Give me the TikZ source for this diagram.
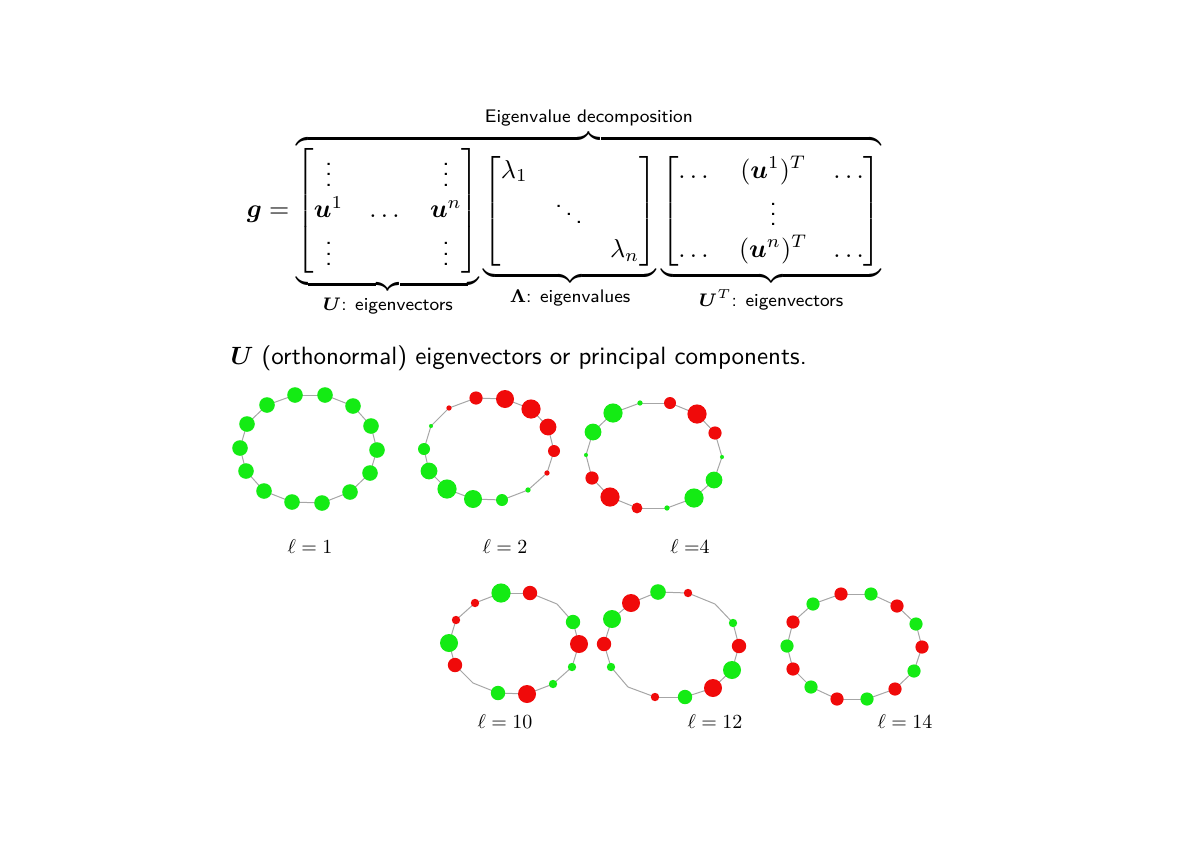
\documentclass[tikz,border=0pt]{standalone}
\usepackage{amsmath,amssymb,bm}
\begin{document}
\begin{tikzpicture}[x=0.5pt,y=-0.5pt,
  edge/.style={draw=gray!70,line width=0.5pt}]
\definecolor{dg}{RGB}{20,235,20}
\definecolor{dr}{RGB}{240,10,10}
\useasboundingbox (0,0) rectangle (1200,862);
\node[inner sep=0,scale=1.3] (eq) at (564,212) {\sffamily $\bm g = \overbrace{\underbrace{\begin{bmatrix}\vdots & & \vdots\\ \bm u^1 & \dots & \bm u^n\\ \vdots && \vdots\end{bmatrix}}_{\text{\sffamily $\bm U$: eigenvectors}} \underbrace{\begin{bmatrix}\lambda_1&&\\&\ddots&\\&&\lambda_n\end{bmatrix}}_{\text{\sffamily $\bm\Lambda$: eigenvalues}} \underbrace{\begin{bmatrix}\dots&(\bm u^1)^T&\dots\\&\vdots&\\ \dots&(\bm u^n)^T&\dots\end{bmatrix}}_{\text{\sffamily $\bm U^T$: eigenvectors}}}^{\text{\sffamily Eigenvalue decomposition}}$};
\node[anchor=west,inner sep=0,scale=1.25] (txt) at (230,358) {\sffamily $\bm U$ (orthonormal) eigenvectors or principal components.};
\newcommand{\drawring}[1]{%
  \foreach \x/\y/\r/\c [count=\i, remember=\x as \px (initially 0), remember=\y as \py (initially 0)] in {#1} {%
    \ifnum\i=1 \xdef\fx{\x}\xdef\fy{\y}\else \draw[edge] (\px,\py)--(\x,\y);\fi
    \xdef\lx{\x}\xdef\ly{\y}}%
  \draw[edge] (\lx,\ly)--(\fx,\fy);
  \foreach \x/\y/\r/\c in {#1} {\ifdim \r pt>0pt \fill[\c] (\x,\y) circle[radius=\r*1.2];\fi}}
\def\ringA{295/395/6.5/dg,325/395/6.5/dg,353/406/6.5/dg,371/426/6.5/dg,377/450/6.5/dg,370/473/6.5/dg,350/492/6.5/dg,322/503/6.5/dg,292/502/6.5/dg,264/491/6.5/dg,246/471/6.5/dg,240/448/6.5/dg,247/424/6.5/dg,267/405/6.5/dg}
\def\ringB{476/398/5.5/dr,449/408/2.2/dr,431/426/1.7/dg,424/449/5/dg,429/471/7/dg,447/489/8/dg,473/499/7.5/dg,502/500/5/dg,528/490/2.2/dg,547/473/2.2/dr,554/451/5/dr,548/427/7/dr,531/409/8/dr,505/399/7.5/dr}
\def\ringC{613/413/8/dg,640/403/2.2/dg,670/403/5/dr,697/414/8/dr,715/433/5.5/dr,722/457/1.7/dg,714/480/7/dg,694/498/8/dg,667/508/2.2/dg,637/508/4.5/dr,610/497/8/dr,592/478/5.5/dr,586/455/1.7/dg,593/432/7/dg}
\def\ringD{501/593/8/dg,530/593/6/dr,557/604/0/dg,573/622/6/dg,579/644/7.5/dr,572/667/3.5/dg,553/684/3.5/dg,527/694/7.5/dr,498/693/6/dg,473/683/0/dg,455/665/6/dr,449/643/7.5/dg,456/620/3.5/dr,475/603/3.5/dr}
\def\ringE{631/603/7.5/dr,658/592/6.5/dg,688/593/3.5/dr,715/604/0/dg,733/623/3.5/dg,739/646/6/dr,732/670/7.5/dg,713/688/7.5/dr,685/697/6/dg,655/697/3.5/dr,628/687/0/dg,611/667/3.5/dg,604/644/6/dr,612/619/7.5/dg}
\def\ringF{841/594/5.5/dr,871/594/5.5/dg,897/606/5.5/dr,916/624/5.5/dg,922/647/5.5/dr,914/671/5.5/dg,895/689/5.5/dr,867/699/5.5/dg,837/699/5.5/dr,811/687/5.5/dg,793/669/5.5/dr,787/646/5.5/dg,793/622/5.5/dr,813/604/5.5/dg}
\expandafter\drawring\expandafter{\ringA}
\expandafter\drawring\expandafter{\ringB}
\expandafter\drawring\expandafter{\ringC}
\expandafter\drawring\expandafter{\ringD}
\expandafter\drawring\expandafter{\ringE}
\expandafter\drawring\expandafter{\ringF}
\node (l1) at (310,547) {$\ell = 1$};
\node (l2) at (505,547) {$\ell = 2$};
\node (l4) at (690,547) {$\ell = $4};
\node (l10) at (505,722) {$\ell = 10$};
\node (l12) at (715,722) {$\ell = 12$};
\node (l14) at (905,722) {$\ell = 14$};
\end{tikzpicture}
\end{document}
